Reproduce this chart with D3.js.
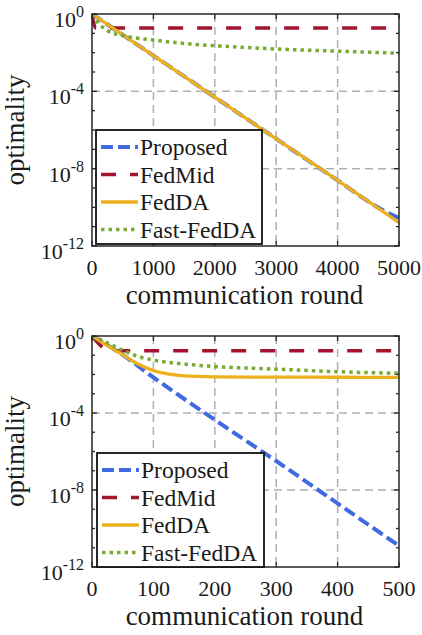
<!DOCTYPE html>
<html>
<head>
<meta charset="utf-8">
<script src="https://cdn.jsdelivr.net/npm/d3@7"></script>
<style>
	body { margin: 0; background: white; }
	svg { display: block; }
	text { font-family: 'Liberation Serif', 'Times New Roman', serif; fill: #1a1a1a; }
</style>
</head>
<body>
<div id="chart"></div>
<script>

// ---- data ----
const seriesNames = ['Proposed', 'FedMid', 'FedDA', 'Fast-FedDA'];
const yTickExps = [0, -4, -8, -12];

// top panel: 0..5000 rounds
const topTicksX = [0, 1000, 2000, 3000, 4000, 5000];
const topProposedX = [0, 1000, 2000, 3000, 4000, 4800, 5000];
const topProposedY = [1, 7.1e-3, 5.0e-5, 3.5e-7, 2.5e-9, 5.5e-11, 2.8e-11];
const topFedMidX = [0, 60, 5000];
const topFedMidY = [1, 0.19, 0.19];
const topFedDAX = [0, 1000, 2000, 3000, 4000, 4800, 5000];
const topFedDAY = [1, 7.1e-3, 5.0e-5, 3.5e-7, 2.5e-9, 4.5e-11, 1.6e-11];
const topFastX = [0, 100, 250, 500, 750, 1000, 1500, 2000, 2500, 3000, 3500, 4000, 4500, 5000];
const topFastY = [1, 0.35, 0.14, 0.076, 0.056, 0.045, 0.030, 0.023, 0.0186, 0.0155, 0.0135, 0.012, 0.0105, 0.0093];

// bottom panel: 0..500 rounds
const botTicksX = [0, 100, 200, 300, 400, 500];
const botProposedX = [0, 50, 100, 200, 300, 400, 500];
const botProposedY = [1, 0.105, 7.1e-3, 4.4e-5, 3.2e-7, 2.0e-9, 1.26e-11];
const botFedMidX = [0, 30, 500];
const botFedMidY = [1, 0.17, 0.17];
const botFedDAX = [0, 25, 50, 75, 100, 125, 150, 200, 300, 400, 500];
const botFedDAY = [1, 0.32, 0.105, 0.035, 0.0158, 0.0105, 0.0085, 0.0076, 0.0073, 0.0072, 0.0071];
const botFastX = [0, 25, 50, 75, 100, 150, 200, 300, 400, 500];
const botFastY = [1, 0.44, 0.18, 0.087, 0.056, 0.035, 0.026, 0.019, 0.014, 0.0115];

// ---- styles ----
const styles = {
	'Proposed':   { color: '#4169E1', dash: '12,5', width: 4 },
	'FedMid':     { color: '#A2142F', dash: '15,14', width: 3.5 },
	'FedDA':      { color: '#EDB120', dash: null, width: 3.3 },
	'Fast-FedDA': { color: '#77AC30', dash: '3.5,4', width: 3.5 }
};

const svg = d3.select('#chart').append('svg')
	.attr('width', 422)
	.attr('height', 635);

function zip(xs, ys){
	return xs.map((x, i) => ({ x: x, y: ys[i] }));
}

function drawPanel(opts){
	const left = 92, right = 399,
		top = opts.top, bottom = opts.bottom,
		xMax = opts.ticksX[opts.ticksX.length - 1];

	const x = d3.scaleLinear().domain([0, xMax]).range([left, right]);
	const y = d3.scaleLog().domain([1e-12, 1]).range([bottom, top]);

	const g = svg.append('g');

	// clip for the curves
	g.append('clipPath').attr('id', 'clip-' + opts.id)
		.append('rect')
		.attr('x', left).attr('y', top)
		.attr('width', right - left).attr('height', bottom - top);

	// grid
	g.selectAll('.gx')
		.data(opts.ticksX.slice(1, -1))
		.enter().append('line')
			.attr('x1', d => x(d)).attr('x2', d => x(d))
			.attr('y1', top).attr('y2', bottom)
			.style('stroke', '#b0b0b0').style('stroke-width', 1.5)
			.style('stroke-dasharray', '8,5');

	g.selectAll('.gy')
		.data(yTickExps.slice(1, -1))
		.enter().append('line')
			.attr('x1', left).attr('x2', right)
			.attr('y1', d => y(Math.pow(10, d))).attr('y2', d => y(Math.pow(10, d)))
			.style('stroke', '#b0b0b0').style('stroke-width', 1.5)
			.style('stroke-dasharray', '8,5');

	// curves
	const line = d3.line()
		.x(d => x(d.x))
		.y(d => y(d.y))
		.curve(d3.curveMonotoneX);

	const curves = g.append('g').attr('clip-path', `url(#clip-${opts.id})`);
	opts.series.forEach(s => {
		const st = styles[s.name];
		curves.append('path')
			.attr('d', line(zip(s.xs, s.ys)))
			.style('fill', 'none')
			.style('stroke', st.color)
			.style('stroke-width', st.width)
			.style('stroke-dasharray', st.dash ? st.dash : null);
	});

	// ticks: x major on bottom & top, y major + decade minor on left & right
	const tickColor = '#262626';
	opts.ticksX.forEach(t => {
		g.append('line').attr('x1', x(t)).attr('x2', x(t)).attr('y1', bottom).attr('y2', bottom - 5)
			.style('stroke', tickColor).style('stroke-width', 1.3);
		g.append('line').attr('x1', x(t)).attr('x2', x(t)).attr('y1', top).attr('y2', top + 5)
			.style('stroke', tickColor).style('stroke-width', 1.3);
	});
	d3.range(-12, 1).forEach(e => {
		const len = e % 4 == 0 ? 5 : 3,
			yy = y(Math.pow(10, e));
		g.append('line').attr('x1', left).attr('x2', left + len).attr('y1', yy).attr('y2', yy)
			.style('stroke', tickColor).style('stroke-width', 1.3);
		g.append('line').attr('x1', right).attr('x2', right - len).attr('y1', yy).attr('y2', yy)
			.style('stroke', tickColor).style('stroke-width', 1.3);
	});

	// frame
	g.append('rect')
		.attr('x', left).attr('y', top)
		.attr('width', right - left).attr('height', bottom - top)
		.style('fill', 'none').style('stroke', tickColor).style('stroke-width', 1.5);

	// x tick labels
	g.selectAll('.xl')
		.data(opts.ticksX)
		.enter().append('text')
			.attr('x', d => x(d))
			.attr('y', bottom + 29)
			.attr('text-anchor', 'middle')
			.style('font-size', '22px')
			.text(d => d);

	// y tick labels 10^e
	yTickExps.forEach(e => {
		const t = g.append('text')
			.attr('x', 84)
			.attr('y', y(Math.pow(10, e)) + 13)
			.attr('text-anchor', 'end')
			.style('font-size', '22px');
		t.append('tspan').text('10');
		t.append('tspan').attr('dy', -10).style('font-size', '16px').text(e);
	});

	// axis titles
	g.append('text')
		.attr('x', (left + right) / 2 - 1)
		.attr('y', bottom + 58)
		.attr('text-anchor', 'middle')
		.style('font-size', '27px')
		.text('communication round');

	g.append('text')
		.attr('transform', `translate(24, ${(top + bottom) / 2}) rotate(-90)`)
		.attr('text-anchor', 'middle')
		.style('font-size', '27px')
		.text('optimality');

	// legend
	const lg = opts.legend;
	const legend = g.append('g').attr('transform', `translate(${lg.x}, ${lg.y})`);
	legend.append('rect')
		.attr('width', lg.w).attr('height', lg.h)
		.style('fill', 'white').style('stroke', '#111').style('stroke-width', 1.8);

	seriesNames.forEach((name, i) => {
		const st = styles[name],
			cy = 17 + i * 27.5;
		legend.append('line')
			.attr('x1', 5).attr('x2', 42)
			.attr('y1', cy).attr('y2', cy)
			.style('stroke', st.color)
			.style('stroke-width', st.width)
			.style('stroke-dasharray', st.dash ? st.dash : null);
		legend.append('text')
			.attr('x', 44)
			.attr('y', cy + 8)
			.style('font-size', '23.5px')
			.text(name);
	});
}

drawPanel({
	id: 'top',
	top: 14,
	bottom: 246,
	ticksX: topTicksX,
	legend: { x: 96, y: 130, w: 166, h: 114 },
	series: [
		{ name: 'Proposed', xs: topProposedX, ys: topProposedY },
		{ name: 'FedMid', xs: topFedMidX, ys: topFedMidY },
		{ name: 'FedDA', xs: topFedDAX, ys: topFedDAY },
		{ name: 'Fast-FedDA', xs: topFastX, ys: topFastY }
	]
});

drawPanel({
	id: 'bot',
	top: 336,
	bottom: 567,
	ticksX: botTicksX,
	legend: { x: 97, y: 453, w: 167, h: 114 },
	series: [
		{ name: 'Proposed', xs: botProposedX, ys: botProposedY },
		{ name: 'FedMid', xs: botFedMidX, ys: botFedMidY },
		{ name: 'FedDA', xs: botFedDAX, ys: botFedDAY },
		{ name: 'Fast-FedDA', xs: botFastX, ys: botFastY }
	]
});

</script>
</body>
</html>
